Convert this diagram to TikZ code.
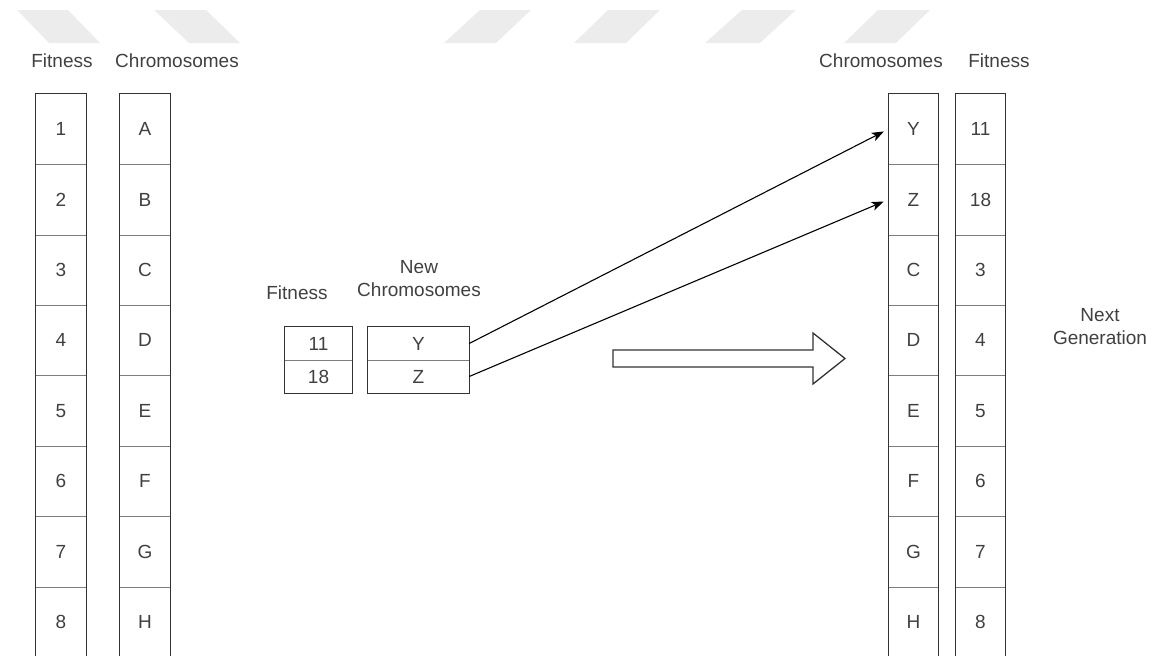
\documentclass[tikz,border=0pt]{standalone}
\usepackage{fontspec}
\setmainfont{Liberation Sans}
\usetikzlibrary{arrows.meta}
\definecolor{ink}{RGB}{51,51,51}
\definecolor{txt}{RGB}{64,64,64}
\definecolor{wm}{RGB}{236,236,236}
\definecolor{divider}{RGB}{125,125,125}

\begin{document}
\begin{tikzpicture}[x=1pt,y=-1pt,
  lbl/.style={inner sep=0pt, text=txt, font=\fontsize{19}{23}\selectfont, align=center},
  cell/.style={inner sep=0pt, minimum width=50pt, minimum height=70.4pt, text=txt, font=\fontsize{19}{23}\selectfont},
  smallcell/.style={inner sep=0pt, minimum height=33pt, text=txt, font=\fontsize{19}{23}\selectfont},
  frame/.style={draw=ink, line width=1.3pt},
  sep/.style={draw=divider, line width=1pt},
  conn/.style={draw=black, line width=1.1pt, shorten >=5pt, -{Stealth[length=12pt,width=9pt,inset=3pt]}},
  bigarrow/.style={draw=ink, line width=1.3pt, fill=white, line join=miter}]
\useasboundingbox (0,0) rectangle (1157,656);

% faint banner stripes along the top edge
\fill[wm] (17,10) -- (68,10) -- (100,43) -- (49,43) -- cycle;
\fill[wm] (154,10) -- (206,10) -- (240,43) -- (189,43) -- cycle;
\fill[wm] (480,10) -- (531,10) -- (496,43) -- (444,43) -- cycle;
\fill[wm] (608,10) -- (660,10) -- (626,43) -- (574,43) -- cycle;
\fill[wm] (742,10) -- (796,10) -- (760,43) -- (705,43) -- cycle;
\fill[wm] (878,10) -- (930,10) -- (896,43) -- (844,43) -- cycle;

% column headings
\node[lbl] (hlf) at (62,61) {Fitness};
\node[lbl] (hlc) at (177,61) {Chromosomes};
\node[lbl] (hrc) at (881,61) {Chromosomes};
\node[lbl] (hrf) at (999,61) {Fitness};

% current population: fitness and chromosomes
\foreach \v [count=\i] in {1,...,8}
  \node[cell] (lf\i) at (61,{94+70.4*(\i-0.5)}) {\v};
\foreach \v [count=\i] in {A,B,C,D,E,F,G,H}
  \node[cell] (lc\i) at (145,{94+70.4*(\i-0.5)}) {\v};

% next generation: chromosomes and fitness
\foreach \v [count=\i] in {Y,Z,C,D,E,F,G,H}
  \node[cell] (rc\i) at (913.5,{94+70.4*(\i-0.5)}) {\v};
\foreach \v [count=\i] in {11,18,3,4,5,6,7,8}
  \node[cell] (rf\i) at (980.5,{94+70.4*(\i-0.5)}) {\v};

% column frames and row separators
\foreach \c in {lf,lc,rc,rf} {
  \foreach \i [evaluate=\i as \j using int(\i+1)] in {1,...,7}
    \draw[sep] (\c\i.south west) -- (\c\i.south east);
  \draw[frame] (\c1.north west) rectangle (\c8.south east);
}

% offspring
\node[lbl] (hnf) at (297,293) {Fitness};
\node[lbl] (hnc) at (419,278.5) {New\\Chromosomes};
\node[smallcell, minimum width=67pt] (nf1) at (318.5,343.5) {11};
\node[smallcell, minimum width=67pt] (nf2) at (318.5,376.5) {18};
\node[smallcell, minimum width=101pt] (nc1) at (418.5,343.5) {Y};
\node[smallcell, minimum width=101pt] (nc2) at (418.5,376.5) {Z};
\draw[sep] (nf1.south west) -- (nf1.south east);
\draw[sep] (nc1.south west) -- (nc1.south east);
\draw[frame] (nf1.north west) rectangle (nf2.south east);
\draw[frame] (nc1.north west) rectangle (nc2.south east);

% offspring replace the first two chromosomes
\draw[conn] (nc1.east) -- (rc1.west);
\draw[conn] (nc2.east) -- (rc2.west);

% hollow arrow towards the next generation
\draw[bigarrow] (613,350) -- (813,350) -- (813,333) -- (845,358.5)
  -- (813,384) -- (813,367) -- (613,367) -- cycle;

\node[lbl] (hng) at (1100,326.5) {Next\\Generation};
\end{tikzpicture}
\end{document}
